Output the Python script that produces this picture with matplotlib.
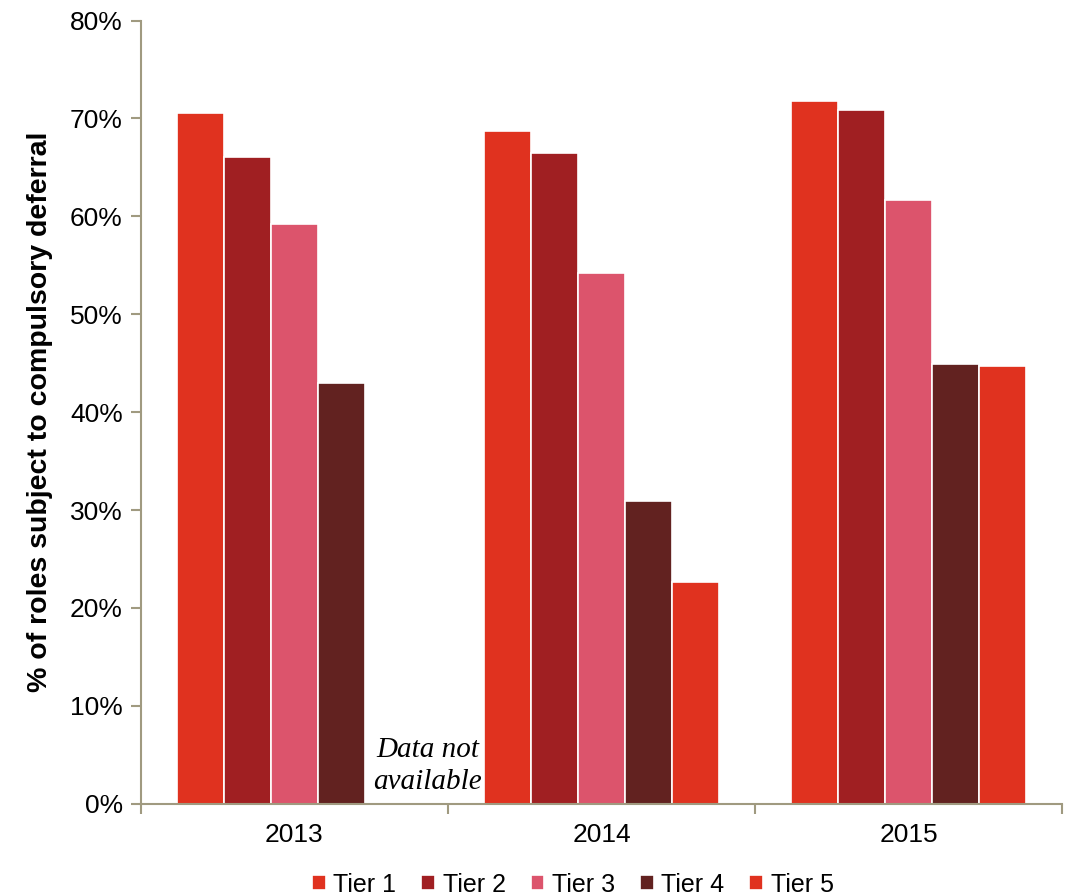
import numpy as np
import matplotlib.pyplot as plt
from matplotlib.ticker import PercentFormatter

plt.rcParams['font.family'] = ['Liberation Sans', 'DejaVu Sans']

# share of roles subject to compulsory deferral, by tier (%)
years = ['2013', '2014', '2015']
tiers = ['Tier 1', 'Tier 2', 'Tier 3', 'Tier 4', 'Tier 5']
tier1 = [70.6, 68.7, 71.8]
tier2 = [66.1, 66.5, 70.9]
tier3 = [59.2, 54.2, 61.7]
tier4 = [43.0, 30.9, 44.9]
tier5 = [np.nan, 22.7, 44.7]   # no 2013 figure for tier 5

colors = ['#E0321F', '#A01F22', '#DC546C', '#622220', '#E0321F']
axis_col = '#A09A80'

fig, ax = plt.subplots(figsize=(10.74, 8.96), dpi=100)
fig.subplots_adjust(left=0.131, right=0.989, top=0.977, bottom=0.103)

x = np.arange(len(years))
w = 0.153
series = [tier1, tier2, tier3, tier4, tier5]
for i, (vals, c, lab) in enumerate(zip(series, colors, tiers)):
    ax.bar(x + (i - 2) * w, vals, width=w, color=c, edgecolor='white',
           linewidth=1.2, label=lab)

ax.text(x[0] + 0.435, 3.9, 'Data not\navailable', ha='center', va='center',
        fontsize=21, style='italic', family=['Liberation Serif', 'DejaVu Serif'],
        linespacing=1.3)

ax.set_xlim(-0.5, 2.5)
ax.set_ylim(0, 80)
ax.set_yticks(np.arange(0, 81, 10))
ax.yaxis.set_major_formatter(PercentFormatter(decimals=0))
ax.set_xticks(x)
ax.set_xticklabels(years)
ax.set_xticks([-0.5, 0.5, 1.5, 2.5], minor=True)
ax.tick_params(axis='x', which='major', length=0, pad=14, labelsize=19)
ax.tick_params(axis='x', which='minor', length=7, color=axis_col, width=1.5)
ax.tick_params(axis='y', length=7, color=axis_col, width=1.5, labelsize=19, pad=6)

for s in ['top', 'right']:
    ax.spines[s].set_visible(False)
for s in ['left', 'bottom']:
    ax.spines[s].set_color(axis_col)
    ax.spines[s].set_linewidth(1.5)

ax.set_ylabel('% of roles subject to compulsory deferral', fontsize=20.5,
              fontweight='bold', labelpad=12)

ax.legend(loc='upper center', bbox_to_anchor=(0.469, -0.088), ncol=5,
          frameon=False, fontsize=18, handlelength=0.55, handleheight=0.55,
          handletextpad=0.3, columnspacing=1.0, borderaxespad=0,
          borderpad=0)

fig.savefig('out.png', dpi=100)
